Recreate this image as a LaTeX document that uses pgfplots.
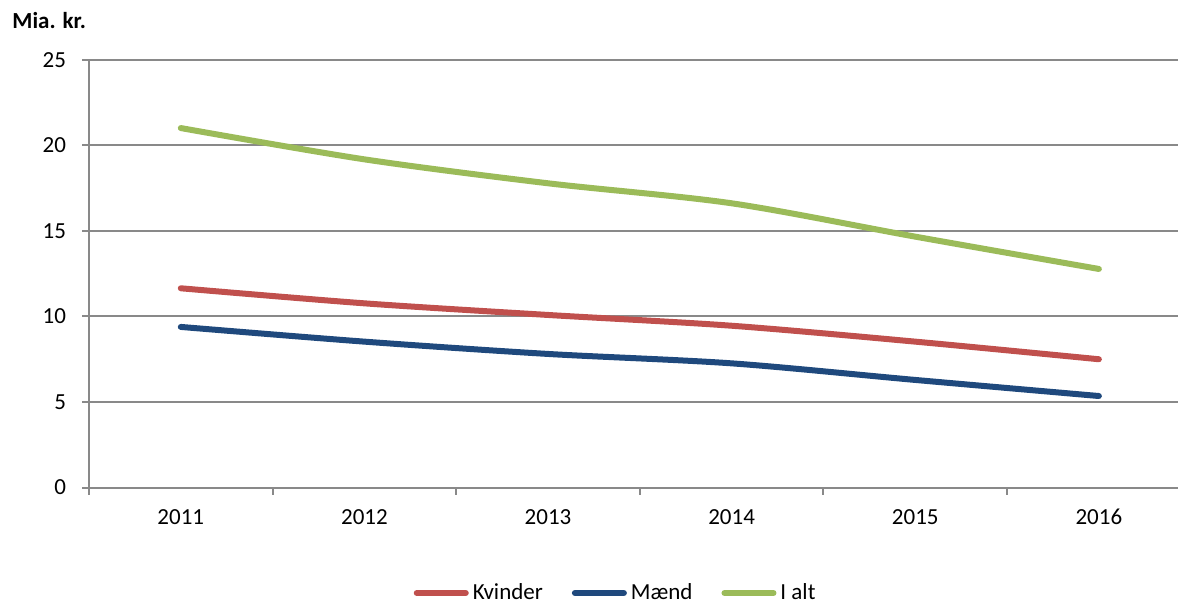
\documentclass[border=0pt]{standalone}
\usepackage{fontspec}
\setmainfont{Carlito}
\usepackage{pgfplots}
\pgfplotsset{compat=1.18}
\definecolor{kv}{HTML}{C0504D}
\definecolor{mae}{HTML}{1F497D}
\definecolor{ialt}{HTML}{9BBB59}
\definecolor{gridc}{HTML}{898989}
\begin{document}
\begin{tikzpicture}
\begin{axis}[
  scale only axis, width=544.5pt, height=213.75pt,
  xmin=-0.5, xmax=5.431, ymin=0, ymax=25,
  axis lines*=left,
  axis line style={gridc, line width=1pt},
  ytick={0,5,...,25}, ymajorgrids,
  grid style={gridc, line width=1pt},
  xtick={0,...,5}, xticklabels={2011,2012,2013,2014,2015,2016},
  minor xtick={-0.5,0.5,...,4.5},
  major x tick style={draw=none},
  tick style={gridc, line width=1pt},
  major tick length=3.5pt, minor tick length=3.5pt, tick align=outside,
  ticklabel style={font=\fontsize{11.5}{13}\selectfont, text=black},
  /pgf/number format/assume math mode=true,
  yticklabel style={xshift=-4.5pt},
  xticklabel style={yshift=-4pt, text height=7.4pt, text depth=0pt},
  legend style={at={(0.4845,-0.2468)}, anchor=center, draw=none, legend columns=3,
    font=\fontsize{11.5}{13}\selectfont,
    /tikz/every even column/.append style={column sep=12.5pt}},
  legend image code/.code={\draw[line width=3pt, line cap=round] (0pt,0pt) -- (24.5pt,0pt);},
]
\addplot[kv, line width=3pt, smooth, line cap=round] coordinates {(0,11.65)(1,10.77)(2,10.09)(3,9.46)(4,8.53)(5,7.50)};
\addlegendentry{Kvinder}
\addplot[mae, line width=3pt, smooth, line cap=round] coordinates {(0,9.39)(1,8.53)(2,7.81)(3,7.26)(4,6.29)(5,5.35)};
\addlegendentry{Mænd}
\addplot[ialt, line width=3pt, smooth, line cap=round] coordinates {(0,21.02)(1,19.19)(2,17.79)(3,16.62)(4,14.67)(5,12.78)};
\addlegendentry{I alt}
\coordinate (bl) at (rel axis cs:0,0);
\coordinate (tr) at (rel axis cs:1,1);
\end{axis}
\node[anchor=base west, inner sep=0pt, font=\fontsize{11.5}{13}\selectfont\bfseries] at ([shift={(-38.5pt,15.5pt)}]bl|-tr) {Mia. kr.};
\pgfresetboundingbox
\path ([shift={(-44.5pt,-58.75pt)}]bl) rectangle ([shift={(0pt,30pt)}]tr);
\end{tikzpicture}
\end{document}
